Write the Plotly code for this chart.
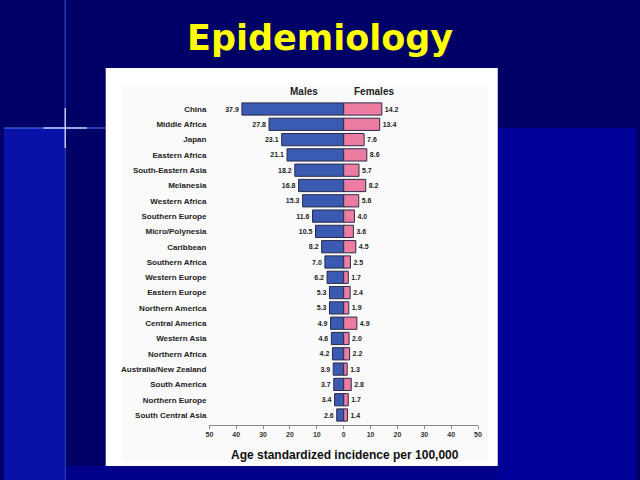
import plotly.graph_objects as go

regions = ["China", "Middle Africa", "Japan", "Eastern Africa", "South-Eastern Asia",
           "Melanesia", "Western Africa", "Southern Europe", "Micro/Polynesia", "Caribbean",
           "Southern Africa", "Western Europe", "Eastern Europe", "Northern America",
           "Central America", "Western Asia", "Northern Africa", "Australia/New Zealand",
           "South America", "Northern Europe", "South Central Asia"]
males = [37.9, 27.8, 23.1, 21.1, 18.2, 16.8, 15.3, 11.6, 10.5, 8.2, 7.0, 6.2, 5.3, 5.3,
         4.9, 4.6, 4.2, 3.9, 3.7, 3.4, 2.6]
females = [14.2, 13.4, 7.6, 8.6, 5.7, 8.2, 5.6, 4.0, 3.6, 4.5, 2.5, 1.7, 2.4, 1.9,
           4.9, 2.0, 2.2, 1.3, 2.8, 1.7, 1.4]
tick_vals = [-50, -40, -30, -20, -10, 0, 10, 20, 30, 40, 50]
tick_text = ["50", "40", "30", "20", "10", "0", "10", "20", "30", "40", "50"]

W, H = 640, 480
def px(x):
    return x / W
def py(y):
    return 1 - y / H

rows = list(range(len(regions)))
row_top_px, row_bot_px = 109, 415
step = (row_bot_px - row_top_px) / (len(regions) - 1)
dom_top_px, dom_bot_px = 95, 425
r_top = (dom_top_px - row_top_px) / step
r_bot = (len(regions) - 1) + (dom_bot_px - row_bot_px) / step

FONT = "Liberation Sans, Arial, sans-serif"
BLUE = "#3b5bb2"
PINK = "#ec7ca2"
EDGE = "#2a2a4a"

fig = go.Figure()
fig.add_trace(go.Bar(
    y=rows, x=[-m for m in males], orientation="h", width=0.8,
    marker=dict(color=BLUE, line=dict(color=EDGE, width=1)),
    text=[f"<b>{m:.1f}</b>" for m in males], textposition="outside",
    textfont=dict(family=FONT, size=7, color="#222"), cliponaxis=False,
    name="Males", showlegend=False))
fig.add_trace(go.Bar(
    y=rows, x=females, orientation="h", width=0.8,
    marker=dict(color=PINK, line=dict(color=EDGE, width=1)),
    text=[f"<b>{f:.1f}</b>" for f in females], textposition="outside",
    textfont=dict(family=FONT, size=7, color="#222"), cliponaxis=False,
    name="Females", showlegend=False))

shapes = [
    # lower background blocks
    dict(type="rect", xref="paper", yref="paper", x0=px(0), x1=px(61), y0=py(480), y1=py(128),
         fillcolor="#0812a8", line_width=0, layer="below"),
    dict(type="rect", xref="paper", yref="paper", x0=px(500), x1=px(640), y0=py(480), y1=py(128),
         fillcolor="#000099", line_width=0, layer="below"),
    dict(type="rect", xref="paper", yref="paper", x0=px(61), x1=px(500), y0=py(480), y1=py(466),
         fillcolor="#000088", line_width=0, layer="below"),
    # flare
    dict(type="line", xref="paper", yref="paper", x0=px(62), x1=px(62), y0=py(0), y1=py(480),
         line=dict(color="rgba(80,130,255,0.45)", width=1.5), layer="below"),
    dict(type="line", xref="paper", yref="paper", x0=px(0), x1=px(103), y0=py(128), y1=py(128),
         line=dict(color="rgba(90,140,255,0.6)", width=1.5), layer="below"),
    dict(type="line", xref="paper", yref="paper", x0=px(40), x1=px(84), y0=py(128), y1=py(128),
         line=dict(color="rgba(200,220,255,0.9)", width=1.5), layer="below"),
    dict(type="line", xref="paper", yref="paper", x0=px(62), x1=px(62), y0=py(108), y1=py(148),
         line=dict(color="rgba(200,220,255,0.9)", width=1.5), layer="below"),
    # white panel
    dict(type="rect", xref="paper", yref="paper", x0=px(103), x1=px(500), y0=py(466), y1=py(68),
         fillcolor="white", line_width=0, layer="below"),
    dict(type="rect", xref="paper", yref="paper", x0=px(120), x1=px(490), y0=py(462), y1=py(84),
         fillcolor="#fafafa", line_width=0, layer="below"),
]

annotations = [
    dict(text="<b>Epidemiology</b>", xref="paper", yref="paper", x=px(320), y=py(38),
         showarrow=False, font=dict(family="DejaVu Sans, Verdana, sans-serif", size=35, color="#ffff00"),
         xanchor="center", yanchor="middle"),
    dict(text="<b>Males</b>", xref="paper", yref="paper", x=px(304), y=py(91),
         showarrow=False, font=dict(family=FONT, size=10, color="#222"),
         xanchor="center", yanchor="middle"),
    dict(text="<b>Females</b>", xref="paper", yref="paper", x=px(375), y=py(91),
         showarrow=False, font=dict(family=FONT, size=10, color="#222"),
         xanchor="center", yanchor="middle"),
    dict(text="<b>Age standardized incidence per 100,000</b>", xref="paper", yref="paper",
         x=px(345), y=py(455), showarrow=False, font=dict(family=FONT, size=12, color="#111"),
         xanchor="center", yanchor="middle"),
]

fig.update_layout(
    width=W, height=H, margin=dict(l=0, r=0, t=0, b=0),
    paper_bgcolor="#000066", plot_bgcolor="rgba(0,0,0,0)",
    barmode="overlay", bargap=0.2,
    shapes=shapes, annotations=annotations,
    xaxis=dict(domain=[px(208), px(480)], range=[-50, 50], tickvals=tick_vals,
               ticktext=[f"<b>{t}</b>" for t in tick_text],
               showgrid=False, zeroline=False, showline=True, linecolor="#888", linewidth=1,
               ticks="outside", ticklen=3, tickcolor="#888",
               tickfont=dict(family=FONT, size=7, color="#333"), fixedrange=True),
    yaxis=dict(domain=[py(dom_bot_px), py(dom_top_px)], range=[r_bot, r_top],
               tickvals=rows, ticktext=[f"<b>{r}</b>" for r in regions],
               showgrid=False, zeroline=False, showline=False, ticks="",
               tickfont=dict(family=FONT, size=8, color="#222"), ticklabelstandoff=2),
)

fig.write_html("out.html")
